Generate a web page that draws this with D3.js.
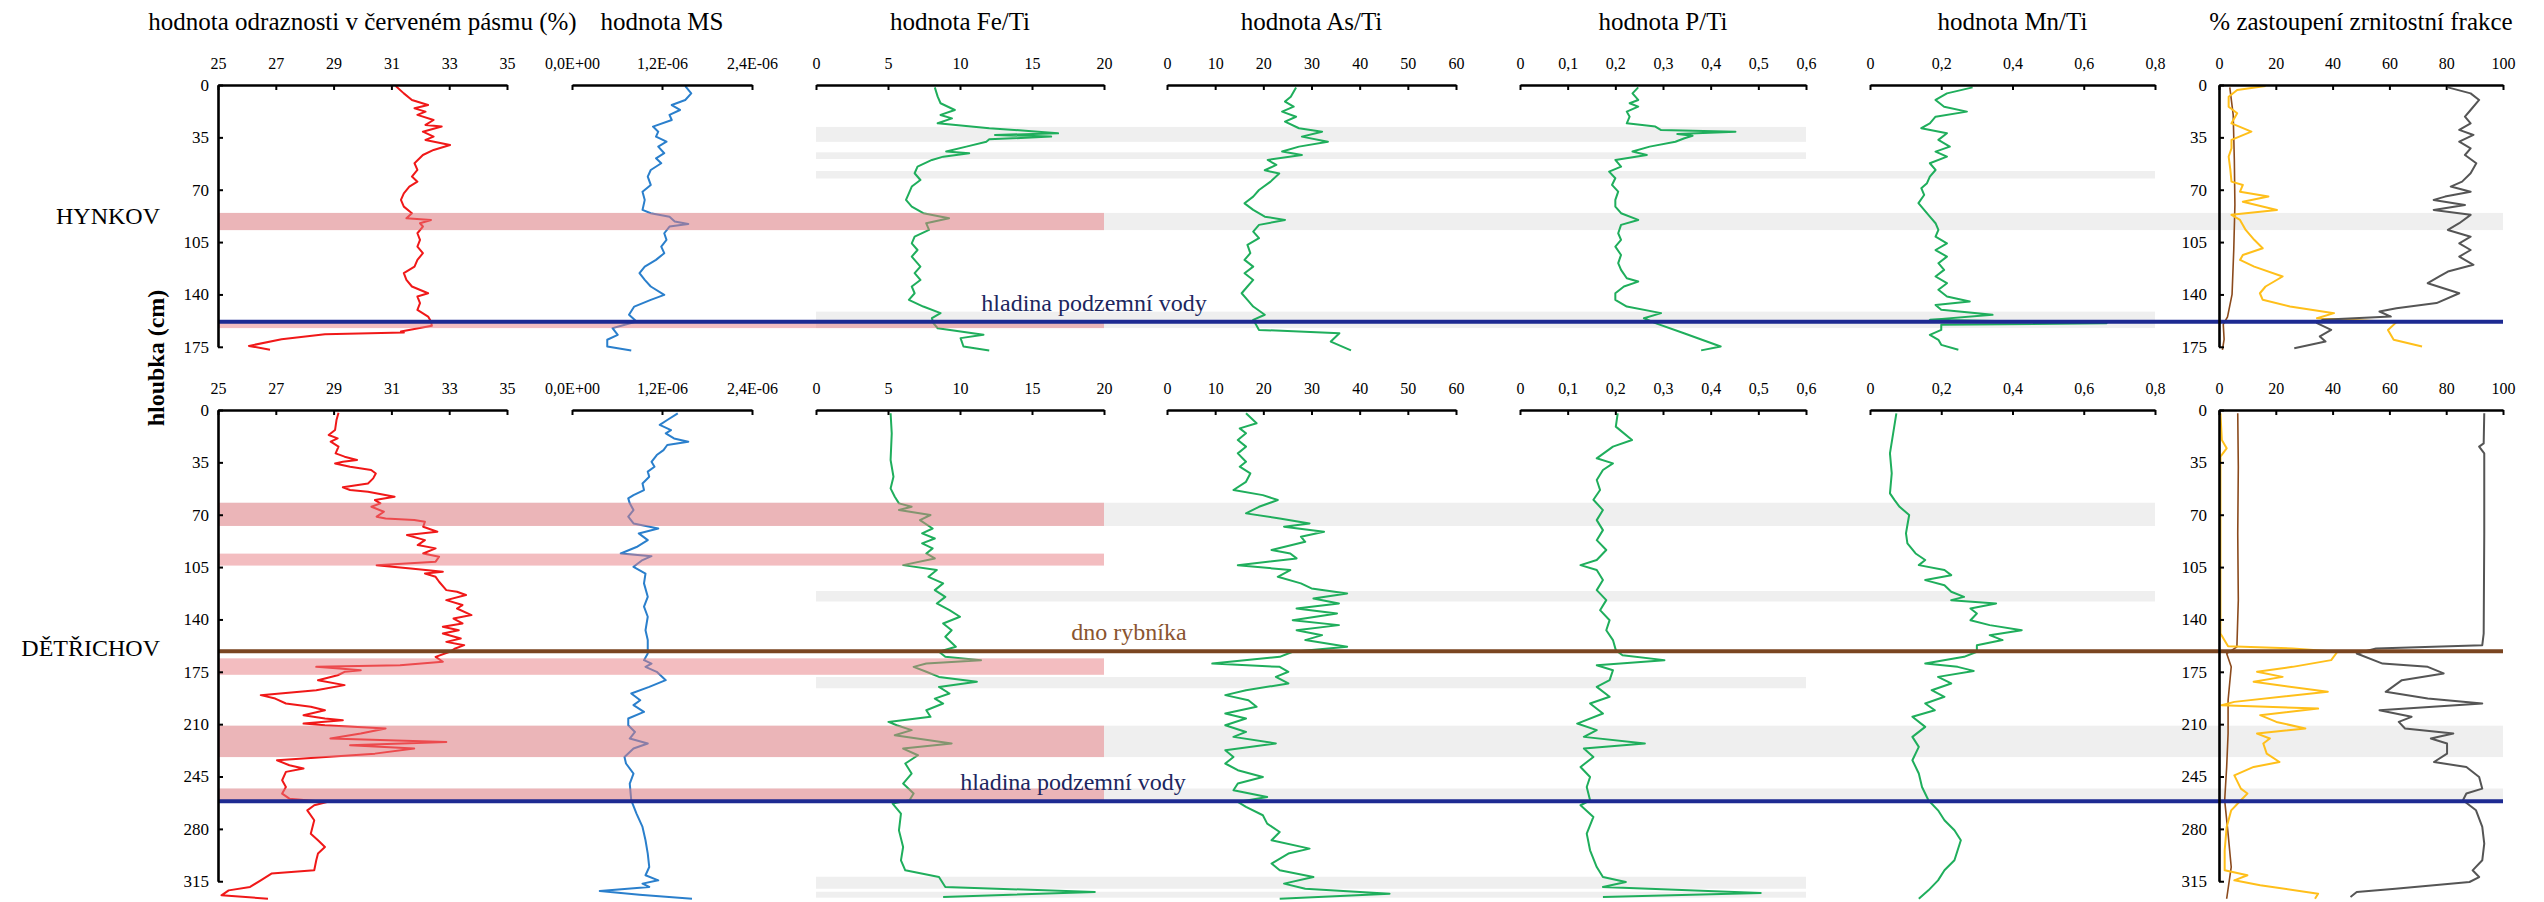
<!DOCTYPE html>
<html>
<head>
<meta charset="utf-8">
<script src="https://cdn.jsdelivr.net/npm/d3@7"></script>
<style>
  body { margin: 0; background: #fff; }
  svg { display: block; font-family: "Liberation Serif", "Times New Roman", serif; }
</style>
</head>
<body>
<svg id="chart"></svg>
<script>
const width = 2544;
const height = 902;

// --- panels (columns) ---
const panelTitles = [
  "hodnota odraznosti v červeném pásmu (%)",
  "hodnota MS",
  "hodnota Fe/Ti",
  "hodnota As/Ti",
  "hodnota P/Ti",
  "hodnota Mn/Ti",
  "% zastoupení zrnitostní frakce",
];
const panelDomains = [[25, 35], [0, 2.4], [0, 20], [0, 60], [0, 0.6], [0, 0.8], [0, 100]];
const panelTicks = [
  [25, 27, 29, 31, 33, 35],
  [0, 1.2, 2.4],                // MS in 1E-06 units
  [0, 5, 10, 15, 20],
  [0, 10, 20, 30, 40, 50, 60],
  [0, 0.1, 0.2, 0.3, 0.4, 0.5, 0.6],
  [0, 0.2, 0.4, 0.6, 0.8],
  [0, 20, 40, 60, 80, 100],
];
const depthTicksHynkov = [0, 35, 70, 105, 140, 175];
const depthTicksDetrichov = [0, 35, 70, 105, 140, 175, 210, 245, 280, 315];

// --- HYNKOV profiles: [depth cm, value] ---
const hynkovRed = [[0.7,31.15],[5.6,31.43],[10,31.71],[13.4,32.27],[15.6,31.8],[17.8,32.18],[20,31.9],[23.4,32.46],[26.7,32.18],[27.8,32.74],[31.2,32.09],[34.5,32.46],[36.7,32.18],[40.1,33.03],[43.4,32.46],[46.8,32.09],[52.3,31.8],[56.8,31.9],[61.2,31.71],[64.6,31.9],[67.9,31.62],[72.4,31.43],[76.8,31.33],[81.3,31.43],[85.7,31.71],[89.1,31.52],[90.2,32.37],[92.4,31.99],[94.6,32.09],[99.1,31.9],[103.5,31.99],[108,31.9],[112.4,32.09],[116.9,31.9],[121.4,31.8],[125.8,31.43],[130.3,31.52],[134.7,31.71],[139.2,32.27],[141.4,31.9],[145.8,31.99],[150.3,31.9],[154.8,32.27],[158.1,32.37],[161,32.4],[164.8,31.33],[165.5,31.43],[166.6,28.7],[169.9,27.2],[174.4,26.07],[177,26.8]];
const hynkovMS = [[0.7,1.51],[5.6,1.59],[10,1.51],[13.4,1.33],[16.7,1.44],[20,1.3],[23.4,1.33],[27.8,1.08],[31.2,1.15],[34.5,1.12],[37.9,1.26],[41.2,1.15],[45.6,1.23],[49,1.12],[52.3,1.19],[56.8,1.05],[61.2,1.01],[66.8,1.05],[71.3,0.94],[76.8,0.97],[83.5,0.94],[85.7,1.05],[88,1.3],[91.3,1.37],[92.9,1.55],[94.6,1.3],[99.1,1.23],[103.5,1.26],[108,1.19],[112.4,1.23],[116.9,1.12],[121.4,0.97],[125.8,0.9],[130.3,0.97],[134.7,1.05],[140.3,1.23],[143.6,1.05],[148.1,0.83],[153.6,0.76],[158.1,0.86],[161.4,0.62],[162.5,0.54],[167,0.61],[170.3,0.47],[174.8,0.47],[177.5,0.79]];
const hynkovFe = [[1.6,8.25],[7.8,8.45],[12.2,8.65],[16.7,9.64],[20,8.65],[22.3,9.44],[25.6,8.45],[28.9,12.03],[31.2,15.42],[32.3,16.81],[33.4,12.43],[34.5,16.33],[36.3,12.03],[37.9,11.83],[41.2,10.44],[44.5,9.04],[45.6,10.64],[47.9,8.84],[50.1,8.05],[54.6,7.05],[59,6.85],[63.5,7.25],[67.9,6.65],[72.4,6.45],[76.8,6.25],[81.3,6.65],[85.7,7.45],[89.1,9.24],[92.4,7.65],[96.9,7.85],[101.4,6.85],[105.8,6.65],[110.3,7.05],[114.7,6.65],[121.4,7.25],[125.8,6.85],[130.3,7.25],[134.7,6.65],[139.2,6.85],[143.6,6.45],[148.1,7.45],[152.5,8.65],[155.9,8.05],[159.2,8.15],[162.6,8.45],[167,11.63],[169.2,10.04],[174.8,10.24],[177.4,12.03]];
const hynkovAs = [[1.6,26.8],[7.8,25.7],[11.1,24.5],[14.5,26.3],[17.8,23.9],[21.2,26.8],[24.5,24.5],[28.9,27.4],[31.2,32.2],[34.5,28],[37.9,33.4],[41.2,27.4],[44.5,23.9],[46.8,28],[50.1,20.9],[53.4,22.7],[57,20.3],[59.2,23.3],[64.6,21.5],[70.2,19.1],[74.6,17.9],[79.1,16.1],[83.5,17.9],[88,20.3],[90.2,24.5],[93.5,19.1],[98,17.9],[102.4,19.1],[106.9,16.7],[112.4,17.3],[116.9,16.1],[121.4,17.9],[125.8,16.1],[130.3,17.9],[134.7,16.7],[139.2,15.5],[143.6,16.7],[148.1,17.9],[153.6,20.3],[157,17.9],[160.3,18.5],[163.7,19.1],[165.9,35.8],[171.5,34],[177.4,38.2]];
const hynkovP = [[1.6,0.248],[5.6,0.236],[10,0.248],[12.2,0.23],[14.5,0.248],[17.8,0.224],[21.2,0.23],[25.6,0.224],[27.8,0.284],[30.1,0.296],[31.2,0.452],[32.7,0.33],[34,0.362],[35.6,0.345],[37.9,0.326],[41.2,0.272],[44.5,0.236],[46.8,0.266],[50.1,0.2],[54.6,0.212],[57.9,0.187],[62.3,0.2],[66.8,0.193],[71.3,0.206],[76.8,0.2],[81.3,0.2],[85.7,0.212],[90.2,0.248],[93.5,0.212],[99.1,0.206],[103.5,0.212],[108,0.2],[113.6,0.212],[119.1,0.206],[123.6,0.212],[129.2,0.224],[131.4,0.248],[134.7,0.218],[139.2,0.2],[143.6,0.2],[148.1,0.224],[152.5,0.296],[155.9,0.26],[159.2,0.284],[165.9,0.344],[174.8,0.421],[177.4,0.38]];
const hynkovMn = [[1.6,0.288],[5.6,0.216],[10,0.184],[14.5,0.208],[17.8,0.272],[21.2,0.184],[25.6,0.168],[28.9,0.144],[32.3,0.216],[36.7,0.192],[41.2,0.224],[44.5,0.184],[47.9,0.216],[52.3,0.168],[56.8,0.184],[61.2,0.168],[65.6,0.16],[69,0.144],[73.5,0.152],[79,0.136],[83.5,0.152],[88,0.168],[92.4,0.184],[96.9,0.192],[101.4,0.184],[105.8,0.216],[110.3,0.184],[114.7,0.216],[119.1,0.192],[123.6,0.208],[128,0.184],[132.5,0.216],[136.9,0.192],[141.4,0.216],[144.7,0.28],[147,0.184],[150.3,0.2],[153.6,0.344],[157,0.168],[159.2,0.664],[160.3,0.2],[163.7,0.2],[167,0.168],[170.3,0.192],[173.7,0.2],[177,0.248]];
const hynkovGrainGray = [[1.6,80.6],[5.6,88.6],[10,91.6],[16.7,88.6],[21.2,86.6],[25.6,88.6],[30,84.6],[33.4,89.6],[37.9,84.6],[42.3,88.6],[46.8,86.6],[52.3,90.6],[59,88.6],[64.6,85.6],[67.9,81.6],[71.3,88.6],[74.6,79.6],[76.8,75.6],[80.2,86.6],[83.5,75.6],[86.8,88.6],[92.4,84.6],[96.9,80.6],[101.4,88.6],[105.8,84.6],[110.3,88.6],[114.7,84.6],[120.2,89.6],[124.7,80.6],[128,77.6],[132.5,73.5],[139.2,84.6],[145.8,76.6],[149.2,62.5],[151.4,56.5],[154.8,60.5],[157,36.5],[159.2,34.5],[163.7,39.5],[168.1,35.5],[171.5,37.5],[176,26.5]];
const hynkovGrainYellow = [[0.7,16.4],[3.3,6.4],[7.8,3.4],[14.5,3.4],[18.9,6.4],[25.6,4.4],[31.2,11.4],[36.7,4.4],[42.3,4.4],[47.9,3.4],[56.8,4],[64.6,4.4],[66.8,8.4],[71.3,7.4],[74.6,17.4],[78,8.4],[83.5,20.4],[86.8,4.4],[90.2,7.4],[96.9,9.4],[103.5,12.4],[109.1,15.4],[113.6,8.4],[116.9,7.4],[121.4,12.4],[128,22.4],[134.7,16.4],[139.2,14.4],[143.6,15.4],[148.1,25],[152.5,40.5],[155.9,34.5],[158.5,62.5],[163.7,59.5],[170.3,61.5],[174.8,71.5]];
const hynkovGrainBrown = [[1.6,3.8],[20,5],[50,5.4],[80,5.6],[110,5.2],[140,4.6],[155,3],[160,1.5],[170,1.8],[177,1.2]];

// --- DĚTŘICHOV profiles: [depth cm, value] ---
const detrichovRed = [[1.8,29.17],[6.7,29.1],[13.4,29.05],[16.7,28.83],[19,29.14],[21.2,28.9],[24.5,29.17],[29,29.07],[31.2,29.38],[33.4,29.81],[34.6,29.32],[35.7,29.05],[37.9,29.57],[40.1,30.3],[42.4,30.46],[45.7,30.37],[49.1,30.19],[51.7,29.32],[53.5,29.57],[54.6,30.19],[58,31.11],[60.2,30.43],[62.4,30.62],[64.7,30.31],[68,30.74],[71.3,30.49],[72.5,30.8],[73.6,31.79],[74.7,32.16],[78,32.1],[81.4,32.59],[83.6,31.54],[87,32.16],[90.3,31.91],[92.5,32.53],[95.9,32.1],[98.1,32.65],[101.4,32.53],[103.7,30.49],[105.9,31.67],[108.1,32.78],[109.3,32.16],[111.5,32.53],[114.8,32.65],[120.4,32.9],[121.5,33.27],[123.7,33.58],[127.1,32.9],[130.4,33.46],[132.7,33.27],[137.1,33.77],[139.4,33.15],[142.7,33.46],[144.9,32.78],[147.2,33.33],[149.4,32.78],[152.7,33.4],[155,32.9],[157.2,33.52],[159.4,33.21],[161.6,33.02],[165,32.53],[168.3,32.78],[170.6,31.3],[171.7,28.4],[172.8,29.2],[173.9,29.94],[175,29.38],[177.3,29.14],[180.6,28.46],[183.9,29.38],[187.3,28.4],[190.6,26.48],[192.9,26.98],[196.2,27.35],[198.4,28.21],[200.7,28.7],[204,27.96],[206.2,28.7],[207.4,29.32],[209.6,27.96],[210.7,28.7],[212.9,30.8],[216.3,29.94],[219.6,28.89],[221.9,32.9],[224.1,29.57],[226.3,31.79],[229.7,30.43],[234.1,27.04],[237.5,27.47],[239.7,27.96],[241.9,27.35],[247.5,27.22],[252,27.35],[256.4,27.22],[259.8,27.47],[262,28.77],[264.2,28.33],[267.6,28.09],[274.2,28.33],[283.2,28.21],[287.6,28.46],[292.1,28.7],[296.5,28.46],[301,28.4],[307.7,28.33],[309.9,26.85],[314.4,26.48],[318.8,26.11],[321.1,25.37],[324.4,25.12],[326.7,26.73]];
const detrichovMS = [[2.2,1.41],[6.7,1.27],[10,1.17],[13.4,1.32],[15.6,1.25],[19,1.36],[21.2,1.55],[23.4,1.27],[26.8,1.22],[30.1,1.13],[34.6,1.06],[37.9,1.1],[41.2,1.01],[44.6,1.03],[49.1,0.94],[53.5,0.96],[56.9,0.82],[59.1,0.75],[62.4,0.77],[66.9,0.82],[71.3,0.75],[75.8,0.82],[79.2,1.15],[82.5,0.89],[87,1.01],[91.6,0.86],[95.9,0.65],[97.7,1.06],[100.3,0.94],[104.8,0.82],[109.3,0.98],[115.9,0.96],[124.9,1.01],[131.5,0.96],[138.2,1.01],[147.2,0.98],[153.8,1.01],[162.8,1.01],[167.2,0.96],[169.5,1.06],[171.7,0.98],[175,1.13],[180.6,1.25],[185.1,1.03],[189.5,0.79],[194,0.91],[197.3,0.82],[201.8,0.96],[206.2,0.75],[210.7,0.75],[215.2,0.84],[219.6,0.77],[222.9,1.01],[226.3,0.82],[231.9,0.7],[236.3,0.72],[243,0.82],[249.7,0.77],[260.9,0.79],[269.8,0.86],[278.7,0.94],[287.6,0.98],[296.5,1.01],[305.5,1.03],[311,0.98],[314.4,1.15],[316.6,0.94],[318.8,1.03],[321.5,0.37],[324,0.9],[326.7,1.6]];
const detrichovFe = [[2.2,5.18],[15.6,5.26],[33.4,5.18],[44.6,5.38],[52.4,5.18],[58,5.47],[62.4,5.76],[64.7,6.64],[66.9,5.76],[70.2,7.95],[73.6,7.22],[79.2,8.1],[82.5,7.37],[85.9,8.25],[89.2,7.37],[92.5,8.1],[95.9,7.66],[99.2,8.25],[103.7,6.05],[107,8.39],[111.5,7.81],[115.9,8.83],[120.4,8.25],[124.9,8.98],[129.3,8.39],[133.8,9.27],[138.2,10],[142.7,8.83],[147.2,9.42],[151.6,8.98],[158.3,9.71],[161.6,8.54],[165,8.98],[167.2,11.46],[169.5,7.66],[171.7,6.78],[175,7.66],[178.4,8.54],[181.7,11.17],[185.1,8.54],[189.5,9.27],[192.9,8.25],[196.2,8.83],[200.7,7.66],[205.1,7.95],[208.5,5.03],[210.7,5.61],[214,6.64],[217.4,5.47],[222.9,9.42],[226.3,6.05],[230.8,7.08],[236.3,6.2],[243,6.64],[249.7,6.05],[256.4,6.78],[260.9,6.49],[263.1,5.32],[269.8,5.9],[281,5.76],[292.1,6.05],[301,5.9],[307.7,6.2],[312.2,8.54],[318.8,8.98],[322.2,19.36],[325.5,8.83]];
const detrichovAs = [[2.2,16.4],[8.9,18.6],[12.3,15.1],[15.6,16.4],[20.1,14.7],[24.5,16.4],[29,14.7],[34.6,16.4],[37.9,15.1],[42.4,17.3],[48,16.4],[53.5,13.8],[56.9,19.9],[60.2,23],[64.7,19.1],[69.1,16.4],[72.5,23.4],[75.8,29.6],[78,24.3],[81.4,32.6],[84.7,27.8],[88.1,28.7],[93.6,21.7],[95.9,25.6],[99.2,26.9],[103.7,14.7],[107,25.6],[111.5,23],[115.9,27.8],[119.3,30],[122.6,37.4],[126,30.4],[129.3,35.7],[132.7,26.9],[136,35.3],[140.5,26.1],[143.8,35.7],[147.2,26.9],[150.5,32.2],[153.8,28.7],[158.3,37.4],[161.6,26.1],[165,23.4],[169.5,9.4],[171.7,23.4],[175,25.2],[178.4,22.6],[182.8,25.2],[187.3,16.4],[190.6,12.1],[194,16.9],[198.4,18.6],[202.9,12.1],[206.2,16.4],[210.7,12.1],[215.2,16.4],[218.5,13.8],[222.9,22.6],[227.4,12.1],[231.9,13.8],[236.3,12.1],[240.8,14.7],[245.3,19.9],[249.7,14.7],[254.2,13.8],[258.7,20.8],[262,14.7],[265.3,16.4],[270.9,19.9],[276.5,20.8],[282.1,23.4],[287.6,21.7],[293.2,29.6],[296.5,25.2],[303.2,21.7],[307.7,23.4],[312.2,30.4],[316.6,24.3],[320,28.7],[323.3,46.2],[326.7,23.4]];
const detrichovP = [[2.2,0.205],[11.1,0.201],[20.1,0.235],[24.5,0.195],[32.3,0.161],[35.7,0.195],[40.1,0.174],[46.8,0.161],[53.5,0.168],[60,0.154],[66.9,0.174],[73.6,0.161],[80.3,0.174],[87,0.161],[93.6,0.181],[100.3,0.161],[103.7,0.127],[107,0.161],[113.7,0.174],[120.4,0.161],[127.1,0.181],[133.8,0.168],[140.5,0.188],[147.2,0.181],[153.8,0.195],[160.5,0.201],[163.9,0.215],[167.2,0.303],[170.6,0.161],[174,0.195],[180.6,0.188],[185.1,0.161],[191.7,0.188],[196.2,0.147],[202.9,0.174],[209.6,0.12],[214,0.161],[218.5,0.134],[222.9,0.262],[226.3,0.134],[231.9,0.154],[238.6,0.127],[245.3,0.147],[252,0.14],[260.9,0.147],[264.2,0.127],[272,0.154],[283.2,0.14],[294.3,0.147],[305.5,0.161],[312.2,0.174],[315.5,0.222],[318.8,0.174],[322.9,0.505],[325.5,0.174]];
const detrichovMn = [[2.2,0.074],[15.6,0.065],[29,0.056],[42.4,0.061],[55.7,0.056],[60.2,0.069],[64.7,0.083],[70.2,0.11],[76.9,0.105],[82.5,0.101],[89.2,0.105],[95.9,0.128],[100.3,0.155],[103.7,0.137],[107,0.209],[110.4,0.228],[113.7,0.155],[117.1,0.209],[121.5,0.228],[124.9,0.264],[127.1,0.228],[129.3,0.354],[132.7,0.282],[136,0.3],[140.5,0.282],[143.8,0.336],[147.2,0.426],[150.5,0.336],[153.8,0.372],[157.2,0.3],[161.6,0.3],[165,0.264],[169.5,0.155],[171.7,0.246],[174.4,0.291],[178.4,0.191],[182.8,0.228],[187.3,0.173],[191.7,0.209],[196.2,0.155],[200.7,0.182],[205.1,0.119],[211.8,0.155],[218.5,0.119],[225.2,0.137],[234.1,0.119],[243,0.137],[252,0.146],[260.9,0.164],[267.6,0.191],[274.2,0.209],[280.9,0.237],[287.6,0.255],[294.3,0.246],[301,0.237],[307.7,0.209],[314.4,0.191],[321.1,0.164],[326.7,0.137]];
const detrichovGrainGray = [[2.2,93.4],[22.3,93.2],[24.5,91.6],[29,93.4],[82.5,93.4],[149.4,93.2],[157.2,92.7],[159.4,55.3],[162.8,48.5],[169.5,57.6],[171.7,73.5],[176.1,79.1],[180.6,64.4],[188.4,58.7],[192.9,73.5],[196.2,92.7],[200.7,56.5],[205.1,67.8],[208.5,63.3],[212.9,65.5],[216.3,82.5],[219.6,74.6],[222.9,80.3],[229.7,80.3],[235.3,75.7],[238.6,87.1],[245.3,91.6],[253.1,92.7],[256.4,87.1],[260.9,85.9],[267.6,90.5],[278.7,92.7],[289.9,93.4],[301,92.7],[307.7,89.3],[312.2,91.6],[315.5,88.2],[320,62.1],[322.2,48.5],[325.5,46.3]];
const detrichovGrainYellow = [[2.2,0.5],[20.1,1],[25.6,2.7],[31.2,0.5],[71.3,0.5],[149.4,0.5],[157.9,3.2],[159.4,25.9],[161.6,41.7],[167.2,39.5],[171.7,25.9],[175,13.4],[178.4,22.4],[181.7,12.2],[188.4,38.3],[195.1,5.4],[197.3,0.9],[199.6,34.9],[204,14.5],[208.5,20.2],[212.9,30.4],[216.3,13.4],[219.6,17.9],[222.9,15.6],[229.7,16.8],[235.3,21.3],[238.6,12.2],[244.2,5.4],[253.1,7.7],[256.4,10],[260.9,7.7],[267.6,4.3],[278.7,2.7],[294.3,2],[307.7,2],[311,10],[314.4,5.4],[317.7,14.5],[323.3,34.9],[326.7,33.8]];
const detrichovGrainBrown = [[2.2,6.6],[37.9,6.8],[82.5,6.6],[127.1,6.8],[158.3,6.3],[162.8,2.7],[171.7,4.3],[194,3.2],[216.3,3.2],[238.6,2.7],[260.9,2],[283.2,3.2],[305.5,4.3],[326.7,2.7]];

// --- highlighted layers: [from depth, to depth, first panel, last panel] ---
const hynkovGrayBands = [[28,38,2,4],[45,49.5,2,4],[57.5,62.5,2,5],[85.5,97,0,6],[151.5,162.5,2,5]];
const hynkovPinkBands = [[85.5,97,0,2],[157.5,162.5,0,2]];
const detrichovGrayBands = [[62,77.5,0,5],[121,128,2,5],[178.5,186,2,4],[211,232,0,6],[253,261,0,6],[312,320,2,4],[322,326,2,4]];
const detrichovPinkBands = [[62,77.5,0,2],[96,104,0,2],[166,177,0,2],[211,232,0,2],[253,261,0,2]];

// --- level lines: [depth, kind] ---
const hynkovLevels = [[158.3, "water"]];
const detrichovLevels = [[161.2, "pond"], [261.5, "water"]];

// ---------------- layout ----------------
const panelX = [[218, 507], [572, 752], [816, 1104], [1167, 1456], [1520, 1806], [1870, 2155], [2219, 2503]];
const lineStyles = {
  red: { color: "#f01818", w: 2 },
  ms: { color: "#2a7fcc", w: 2 },
  green: { color: "#1fae5c", w: 2 },
  gray: { color: "#555555", w: 2 },
  yellow: { color: "#ffbf1a", w: 2 },
  brown: { color: "#8b4a1c", w: 1.6 },
};
const levelStyles = {
  water: { color: "#1d2a92", label: "hladina podzemní vody", text: "#20265e" },
  pond: { color: "#7a4520", label: "dno rybníka", text: "#8a5530" },
};

const sites = [
  {
    name: "HYNKOV", top: 85, maxDepth: 175, labelY: 224, ticks: depthTicksHynkov,
    gray: hynkovGrayBands, pink: hynkovPinkBands, levels: hynkovLevels,
    labelX: { water: 1094 },
    series: [
      [hynkovRed, 0, "red"], [hynkovMS, 1, "ms"], [hynkovFe, 2, "green"], [hynkovAs, 3, "green"],
      [hynkovP, 4, "green"], [hynkovMn, 5, "green"],
      [hynkovGrainBrown, 6, "brown"], [hynkovGrainYellow, 6, "yellow"], [hynkovGrainGray, 6, "gray"],
    ],
  },
  {
    name: "DĚTŘICHOV", top: 410, maxDepth: 315, labelY: 656, ticks: depthTicksDetrichov,
    gray: detrichovGrayBands, pink: detrichovPinkBands, levels: detrichovLevels,
    labelX: { water: 1073, pond: 1129 },
    series: [
      [detrichovRed, 0, "red"], [detrichovMS, 1, "ms"], [detrichovFe, 2, "green"], [detrichovAs, 3, "green"],
      [detrichovP, 4, "green"], [detrichovMn, 5, "green"],
      [detrichovGrainBrown, 6, "brown"], [detrichovGrainYellow, 6, "yellow"], [detrichovGrainGray, 6, "gray"],
    ],
  },
];
const PX_PER_CM = 1.496;
const SERIF = '"Liberation Serif", "Times New Roman", serif';

const svg = d3.select("#chart").attr("width", width).attr("height", height);
svg.append("rect").attr("width", width).attr("height", height).attr("fill", "#fff");

const xScales = panelX.map((r, i) => d3.scaleLinear().domain(panelDomains[i]).range(r));

const commaFormat = d3.formatLocale({ decimal: ",", thousands: " ", grouping: [3], currency: ["", ""] }).format("~g");
function msFormat(v) {
  return (v * 1e-6).toExponential(1).replace(".", ",").toUpperCase().replace(/E([+-])(\d)$/, "E$10$2");
}

// panel titles
panelTitles.forEach((t, i) => {
  svg.append("text")
    .attr("x", (panelX[i][0] + panelX[i][1]) / 2)
    .attr("y", 30)
    .attr("text-anchor", "middle")
    .attr("font-size", 25)
    .text(t);
});

// depth axis title
svg.append("text")
  .attr("transform", "translate(164,358) rotate(-90)")
  .attr("text-anchor", "middle")
  .attr("font-size", 24)
  .attr("font-weight", "bold")
  .text("hloubka (cm)");

sites.forEach(site => {
  const y = d3.scaleLinear()
    .domain([0, site.maxDepth])
    .range([site.top, site.top + site.maxDepth * PX_PER_CM]);
  const g = svg.append("g");

  const bandX = b => [panelX[b[2]][0], panelX[b[3]][1]];

  // gray layers under the curves
  g.append("g").selectAll("rect")
    .data(site.gray)
    .join("rect")
    .attr("x", d => bandX(d)[0])
    .attr("width", d => bandX(d)[1] - bandX(d)[0])
    .attr("y", d => y(d[0]))
    .attr("height", d => y(d[1]) - y(d[0]))
    .attr("fill", "#efefef");

  // profiles
  const curves = g.append("g").attr("fill", "none").attr("stroke-linejoin", "round");
  site.series.forEach(([data, panel, style]) => {
    const x = xScales[panel];
    const line = d3.line().x(d => x(d[1])).y(d => y(d[0]));
    curves.append("path")
      .datum(data)
      .attr("d", line)
      .attr("stroke", lineStyles[style].color)
      .attr("stroke-width", lineStyles[style].w);
  });

  // pink layers over the curves
  g.append("g").selectAll("rect")
    .data(site.pink)
    .join("rect")
    .attr("x", d => bandX(d)[0])
    .attr("width", d => bandX(d)[1] - bandX(d)[0])
    .attr("y", d => y(d[0]))
    .attr("height", d => y(d[1]) - y(d[0]))
    .attr("fill", "rgb(231,123,129)")
    .attr("fill-opacity", 0.5);

  // level lines
  site.levels.forEach(([depth, kind]) => {
    const st = levelStyles[kind];
    g.append("line")
      .attr("x1", panelX[0][0]).attr("x2", panelX[6][1])
      .attr("y1", y(depth)).attr("y2", y(depth))
      .attr("stroke", st.color).attr("stroke-width", 4);
    g.append("text")
      .attr("x", site.labelX[kind])
      .attr("y", y(depth) - 11)
      .attr("text-anchor", "middle")
      .attr("font-size", 24)
      .attr("fill", st.text)
      .text(st.label);
  });

  // top value axes
  xScales.forEach((x, i) => {
    const axis = d3.axisTop(x)
      .tickValues(panelTicks[i])
      .tickSize(-5)
      .tickSizeOuter(0)
      .tickPadding(16)
      .tickFormat(i === 1 ? msFormat : commaFormat);
    const ag = g.append("g")
      .attr("transform", `translate(0,${site.top})`)
      .call(axis)
      .attr("font-size", 16)
      .attr("font-family", SERIF);
    ag.select(".domain").attr("stroke-width", 2.6);
    ag.selectAll(".tick line").attr("stroke-width", 2);
    ag.selectAll(".tick text").attr("fill", "#000");
  });

  // depth axes (reflectance and grain-size panels)
  [[0, 9], [6, 12]].forEach(([panel, pad]) => {
    const axis = d3.axisLeft(y)
      .tickValues(site.ticks)
      .tickSize(-5)
      .tickSizeOuter(0)
      .tickPadding(pad);
    const ag = g.append("g")
      .attr("transform", `translate(${panelX[panel][0]},0)`)
      .call(axis)
      .attr("font-size", 17)
      .attr("font-family", SERIF);
    ag.select(".domain").attr("stroke-width", 2.6);
    ag.selectAll(".tick line").attr("stroke-width", 2);
    ag.selectAll(".tick text").attr("fill", "#000");
  });

  // site name
  svg.append("text")
    .attr("x", 160)
    .attr("y", site.labelY)
    .attr("text-anchor", "end")
    .attr("font-size", 24)
    .text(site.name);
});
</script>
</body>
</html>
